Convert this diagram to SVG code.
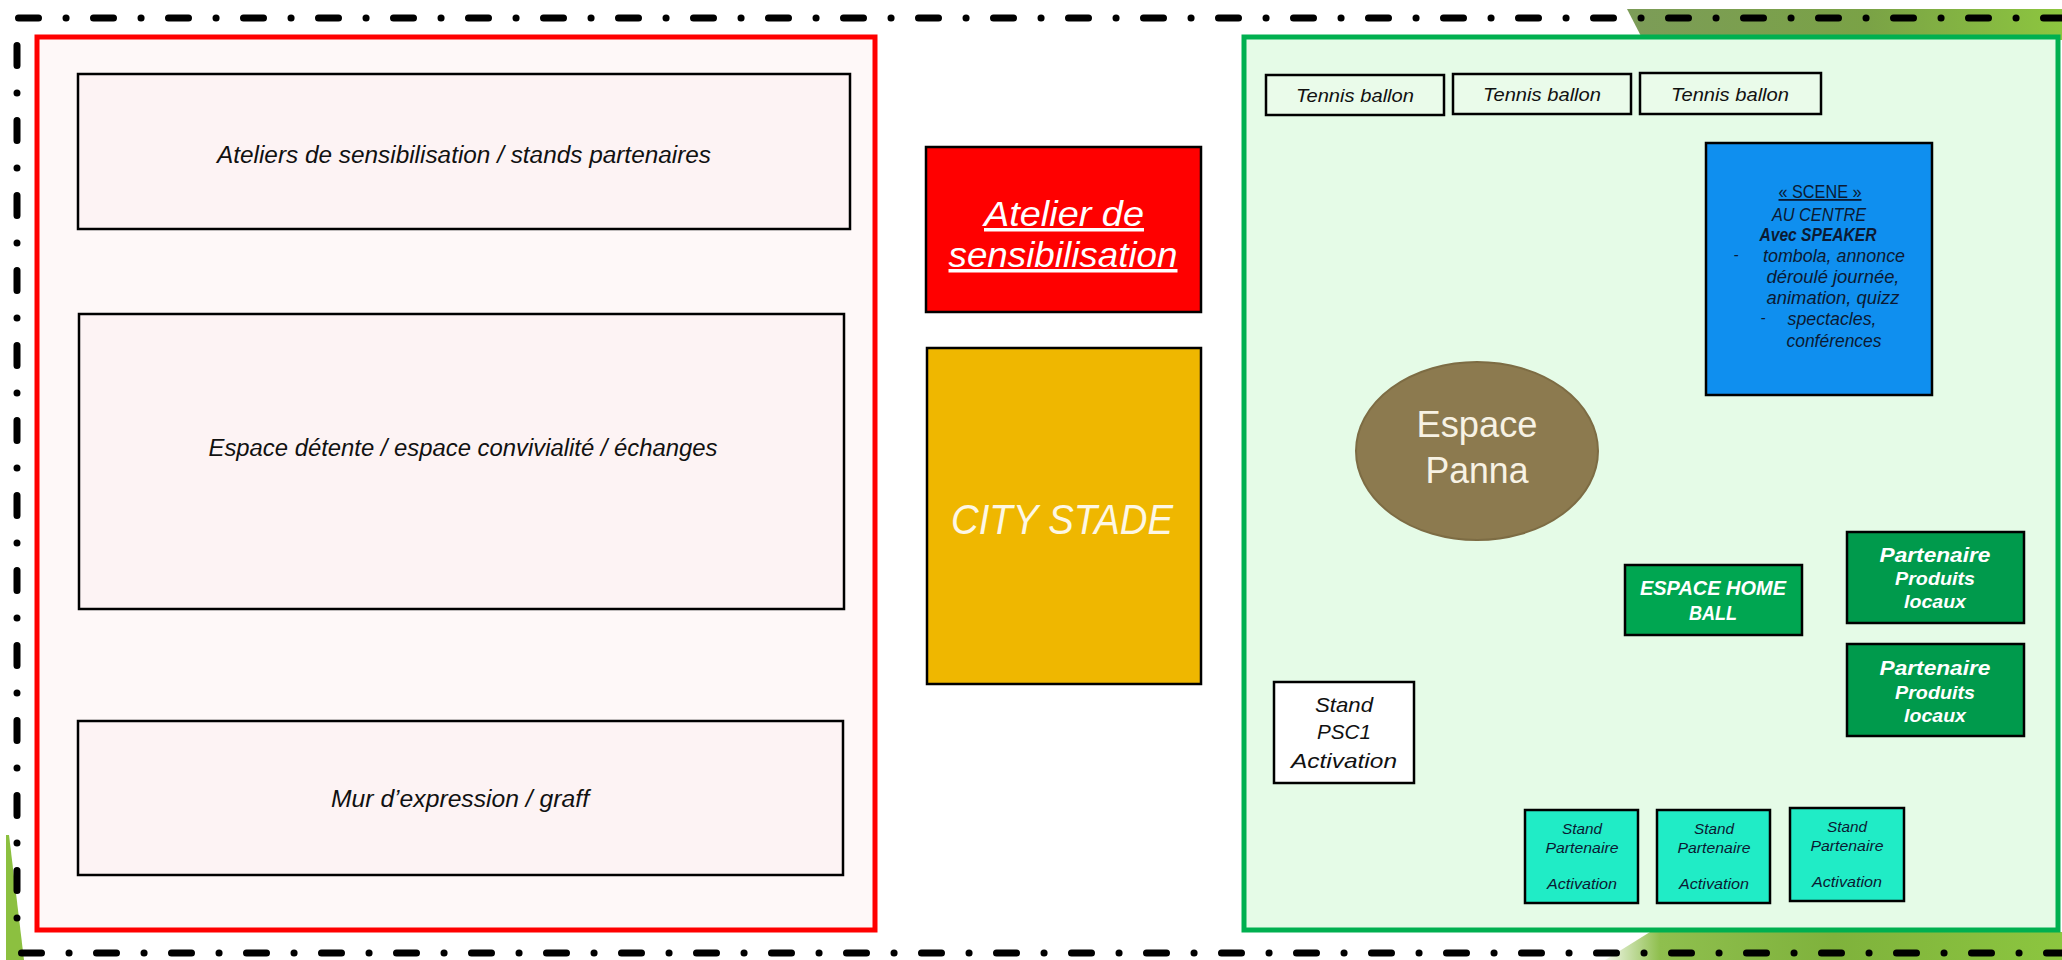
<svg xmlns="http://www.w3.org/2000/svg" width="2062" height="960" viewBox="0 0 2062 960">
  <defs>
    <linearGradient id="gTop" x1="0" y1="0" x2="1" y2="0">
      <stop offset="0" stop-color="#7c9c58"/>
      <stop offset="0.55" stop-color="#7aa246"/>
      <stop offset="1" stop-color="#8dc63f"/>
    </linearGradient>
    <linearGradient id="gBot" x1="0" y1="0" x2="1" y2="0">
      <stop offset="0" stop-color="#f2f7ea"/>
      <stop offset="0.12" stop-color="#8fbf4e"/>
      <stop offset="0.5" stop-color="#7fb23c"/>
      <stop offset="1" stop-color="#8cc63f"/>
    </linearGradient>
    <style>
      .dash { fill: none; stroke: #000; stroke-width: 7; stroke-linecap: round; stroke-dasharray: 20 27.5 0.1 27.4; }
      .box { stroke: #000; stroke-width: 2.5; }
      .pink { fill: #fdf3f4; }
      .it { font-family: "Liberation Sans", Arial, sans-serif; font-style: italic; text-anchor: middle; }
      .blk { fill: #111; }
      .wht { fill: #fff; }
      .navy { fill: #0b1a33; }
    </style>
  </defs>

  <rect x="0" y="0" width="2062" height="960" fill="#ffffff"/>

  <g id="decor">
    <polygon points="1627,9 2062,9 2062,40 1643,40" fill="url(#gTop)"/>
    <polygon points="1650,932 2062,932 2062,960 1605,960" fill="url(#gBot)"/>
    <polygon points="6,835 9,835 24,960 6,960" fill="#8cc040"/>
  </g>

  <g id="border">
    <line class="dash" x1="18.5" y1="18" x2="2062" y2="18"/>
    <line class="dash" x1="21.5" y1="953" x2="2062" y2="953"/>
    <line class="dash" x1="17" y1="45.5" x2="17" y2="935"/>
  </g>

  <g id="zone-left">
    <rect x="37" y="37" width="838" height="893" fill="#fef8f8" stroke="#ff0000" stroke-width="5"/>
  </g>

  <g id="ateliers-stands">
    <rect class="box pink" x="78" y="74" width="772" height="155"/>
    <text class="it blk" x="464" y="163" font-size="23" textLength="494" lengthAdjust="spacingAndGlyphs">Ateliers de sensibilisation / stands partenaires</text>
  </g>

  <g id="espace-detente">
    <rect class="box pink" x="79" y="314" width="765" height="295"/>
    <text class="it blk" x="463" y="456" font-size="23" textLength="509" lengthAdjust="spacingAndGlyphs">Espace détente / espace convivialité / échanges</text>
  </g>

  <g id="mur-expression">
    <rect class="box pink" x="78" y="721" width="765" height="154"/>
    <text class="it blk" x="460" y="807" font-size="23" textLength="258" lengthAdjust="spacingAndGlyphs">Mur d’expression / graff</text>
  </g>

  <g id="atelier-sensibilisation">
    <rect x="926" y="147" width="275" height="165" fill="#ff0000" stroke="#000" stroke-width="2.5"/>
    <text class="it wht" x="1064" y="226" font-size="35" text-decoration="underline" textLength="160" lengthAdjust="spacingAndGlyphs">Atelier de</text>
    <text class="it wht" x="1063" y="267" font-size="35" text-decoration="underline" textLength="229" lengthAdjust="spacingAndGlyphs">sensibilisation</text>
  </g>

  <g id="city-stade">
    <rect x="927" y="348" width="274" height="336" fill="#efb700" stroke="#000" stroke-width="2.5"/>
    <text class="it" x="1062" y="534" font-size="42" fill="#fdf7e6" textLength="222" lengthAdjust="spacingAndGlyphs">CITY STADE</text>
  </g>

  <g id="zone-right">
    <rect x="1244" y="37" width="814" height="893" fill="#e5fbe7" stroke="#00b050" stroke-width="5"/>
  </g>

  <g id="tennis-1">
    <rect class="box" x="1266" y="75" width="178" height="40" fill="#eafbea"/>
    <text class="it blk" x="1355" y="102" font-size="18" textLength="118" lengthAdjust="spacingAndGlyphs">Tennis ballon</text>
  </g>
  <g id="tennis-2">
    <rect class="box" x="1453" y="74" width="178" height="40" fill="#eafbea"/>
    <text class="it blk" x="1542" y="101" font-size="18" textLength="118" lengthAdjust="spacingAndGlyphs">Tennis ballon</text>
  </g>
  <g id="tennis-3">
    <rect class="box" x="1640" y="73" width="181" height="41" fill="#eafbea"/>
    <text class="it blk" x="1730" y="101" font-size="18" textLength="118" lengthAdjust="spacingAndGlyphs">Tennis ballon</text>
  </g>

  <g id="scene">
    <rect class="box" x="1706" y="143" width="226" height="252" fill="#0f8fef"/>
    <text class="navy" x="1820" y="198" font-family="Liberation Sans, Arial, sans-serif" font-size="18" text-anchor="middle" text-decoration="underline" textLength="83" lengthAdjust="spacingAndGlyphs">« SCENE »</text>
    <text class="it navy" x="1819" y="221" font-size="18" textLength="94" lengthAdjust="spacingAndGlyphs">AU CENTRE</text>
    <text class="it navy" x="1818" y="241" font-size="18" font-weight="bold" textLength="117" lengthAdjust="spacingAndGlyphs">Avec SPEAKER</text>
    <text class="it navy" x="1736" y="260" font-size="15">-</text>
    <text class="it navy" x="1834" y="262" font-size="18" textLength="142" lengthAdjust="spacingAndGlyphs">tombola, annonce</text>
    <text class="it navy" x="1833" y="283" font-size="18" textLength="133" lengthAdjust="spacingAndGlyphs">déroulé journée,</text>
    <text class="it navy" x="1833" y="304" font-size="18" textLength="133" lengthAdjust="spacingAndGlyphs">animation, quizz</text>
    <text class="it navy" x="1763" y="323" font-size="15">-</text>
    <text class="it navy" x="1832" y="325" font-size="18" textLength="89" lengthAdjust="spacingAndGlyphs">spectacles,</text>
    <text class="it navy" x="1834" y="347" font-size="18" textLength="95" lengthAdjust="spacingAndGlyphs">conférences</text>
  </g>

  <g id="espace-panna">
    <ellipse cx="1477" cy="451" rx="121" ry="89" fill="#8c7a4f" stroke="#7d6c44" stroke-width="2"/>
    <text x="1477" y="437" font-family="Liberation Sans, Arial, sans-serif" font-size="37" fill="#f7f2e4" text-anchor="middle" textLength="121" lengthAdjust="spacingAndGlyphs">Espace</text>
    <text x="1477" y="483" font-family="Liberation Sans, Arial, sans-serif" font-size="37" fill="#f7f2e4" text-anchor="middle" textLength="103" lengthAdjust="spacingAndGlyphs">Panna</text>
  </g>

  <g id="espace-home-ball">
    <rect class="box" x="1625" y="565" width="177" height="70" fill="#00a651"/>
    <text class="it wht" x="1713" y="595" font-size="20" font-weight="bold" textLength="146" lengthAdjust="spacingAndGlyphs">ESPACE HOME</text>
    <text class="it wht" x="1713" y="620" font-size="20" font-weight="bold" textLength="48" lengthAdjust="spacingAndGlyphs">BALL</text>
  </g>

  <g id="partenaire-1">
    <rect class="box" x="1847" y="532" width="177" height="91" fill="#009a4c"/>
    <text class="it wht" x="1935" y="562" font-size="21" font-weight="bold" textLength="111" lengthAdjust="spacingAndGlyphs">Partenaire</text>
    <text class="it wht" x="1935" y="585" font-size="18" font-weight="bold" textLength="80" lengthAdjust="spacingAndGlyphs">Produits</text>
    <text class="it wht" x="1935" y="608" font-size="18" font-weight="bold" textLength="62" lengthAdjust="spacingAndGlyphs">locaux</text>
  </g>

  <g id="partenaire-2">
    <rect class="box" x="1847" y="644" width="177" height="92" fill="#009a4c"/>
    <text class="it wht" x="1935" y="675" font-size="21" font-weight="bold" textLength="111" lengthAdjust="spacingAndGlyphs">Partenaire</text>
    <text class="it wht" x="1935" y="699" font-size="18" font-weight="bold" textLength="80" lengthAdjust="spacingAndGlyphs">Produits</text>
    <text class="it wht" x="1935" y="722" font-size="18" font-weight="bold" textLength="62" lengthAdjust="spacingAndGlyphs">locaux</text>
  </g>

  <g id="stand-psc1">
    <rect class="box" x="1274" y="682" width="140" height="101" fill="#ffffff"/>
    <text class="it blk" x="1344" y="712" font-size="21" textLength="58" lengthAdjust="spacingAndGlyphs">Stand</text>
    <text class="it blk" x="1344" y="739" font-size="21" textLength="54" lengthAdjust="spacingAndGlyphs">PSC1</text>
    <text class="it blk" x="1344" y="768" font-size="21" textLength="106" lengthAdjust="spacingAndGlyphs">Activation</text>
  </g>

  <g id="stand-partenaire-1">
    <rect class="box" x="1525" y="810" width="113" height="93" fill="#20ecc6"/>
    <text class="it navy" x="1582" y="834" font-size="15" textLength="40" lengthAdjust="spacingAndGlyphs">Stand</text>
    <text class="it navy" x="1582" y="853" font-size="15" textLength="73" lengthAdjust="spacingAndGlyphs">Partenaire</text>
    <text class="it navy" x="1582" y="889" font-size="15" textLength="70" lengthAdjust="spacingAndGlyphs">Activation</text>
  </g>
  <g id="stand-partenaire-2">
    <rect class="box" x="1657" y="810" width="113" height="93" fill="#20ecc6"/>
    <text class="it navy" x="1714" y="834" font-size="15" textLength="40" lengthAdjust="spacingAndGlyphs">Stand</text>
    <text class="it navy" x="1714" y="853" font-size="15" textLength="73" lengthAdjust="spacingAndGlyphs">Partenaire</text>
    <text class="it navy" x="1714" y="889" font-size="15" textLength="70" lengthAdjust="spacingAndGlyphs">Activation</text>
  </g>
  <g id="stand-partenaire-3">
    <rect class="box" x="1790" y="808" width="114" height="93" fill="#20ecc6"/>
    <text class="it navy" x="1847" y="832" font-size="15" textLength="40" lengthAdjust="spacingAndGlyphs">Stand</text>
    <text class="it navy" x="1847" y="851" font-size="15" textLength="73" lengthAdjust="spacingAndGlyphs">Partenaire</text>
    <text class="it navy" x="1847" y="887" font-size="15" textLength="70" lengthAdjust="spacingAndGlyphs">Activation</text>
  </g>

  <g id="connectors"/>
</svg>
